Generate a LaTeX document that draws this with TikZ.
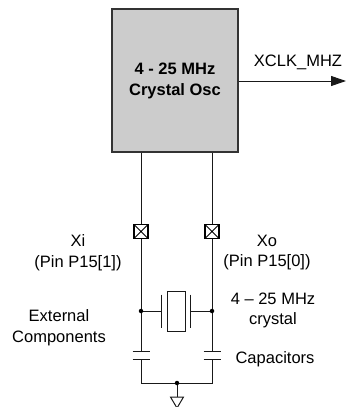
\documentclass[tikz,border=0pt]{standalone}
\usepackage{fontspec}
\setmainfont{Liberation Sans}
\usetikzlibrary{arrows.meta}

\begin{document}
\begin{tikzpicture}[yscale=-1, x=1pt, y=1pt,
    wire/.style={line width=1pt, draw=black!90},
    lbl/.style={font=\fontsize{16.5}{20.5}\selectfont, align=center, inner sep=0pt},
    pinbox/.style={draw=black, line width=1.3pt, minimum size=14pt, inner sep=0pt,
        path picture={\draw[line width=0.9pt] (path picture bounding box.north west) -- (path picture bounding box.south east)
            (path picture bounding box.south west) -- (path picture bounding box.north east);}},
    jdot/.style={circle, fill=black, inner sep=0pt, minimum size=4.5pt}]
    \useasboundingbox (0,0) rectangle (347,407);

    % Define the positions of the circuit points
    \coordinate (jl) at (141,311);
    \coordinate (jr) at (212,311);
    \coordinate (pl) at (161,311);
    \coordinate (pr) at (190,311);
    \coordinate (cl1) at (141,351);
    \coordinate (cl2) at (141,359);
    \coordinate (cr1) at (212,351);
    \coordinate (cr2) at (212,359);
    \coordinate (bl) at (141,383);
    \coordinate (br) at (212,383);
    \coordinate (gnd) at (177,383);
    \coordinate (gndTop) at (177,397);
    \coordinate (clkEnd) at (346,81);

    % Draw the oscillator block
    \node[draw=black!80, fill=black!20, line width=1.3pt, minimum width=126pt, minimum height=143pt,
        font=\fontsize{16.5}{21}\selectfont\bfseries, align=center] (osc) at (175,80.5) {4 - 25 MHz\\Crystal Osc};
    \draw[wire, -{Triangle[length=15pt,width=10pt]}] (osc.east |- clkEnd) -- (clkEnd);
    \node[lbl] (clkLbl) at (298,62) {XCLK\_MHZ};

    % Draw the pins
    \node[pinbox] (xi) at (141,231.5) {};
    \node[pinbox] (xo) at (212,231.5) {};
    \draw[wire] (osc.south -| xi) -- (xi.north);
    \draw[wire] (osc.south -| xo) -- (xo.north);

    % Draw the crystal
    \node[draw=black!90, line width=1pt, minimum width=18pt, minimum height=40pt] (xtal) at (176,311) {};
    \draw[wire] ([yshift=-16.5pt]pl) -- ([yshift=16.5pt]pl);
    \draw[wire] ([yshift=-16.5pt]pr) -- ([yshift=16.5pt]pr);
    \draw[wire] (jl) -- (pl);
    \draw[wire] (pr) -- (jr);

    % Draw the capacitors
    \draw[wire] ([xshift=-8.5pt]cl1) -- ([xshift=8.5pt]cl1);
    \draw[wire] ([xshift=-8.5pt]cl2) -- ([xshift=8.5pt]cl2);
    \draw[wire] ([xshift=-8.5pt]cr1) -- ([xshift=8.5pt]cr1);
    \draw[wire] ([xshift=-8.5pt]cr2) -- ([xshift=8.5pt]cr2);

    % Draw the wires
    \draw[wire] (xi.south) -- (cl1);
    \draw[wire] (xo.south) -- (cr1);
    \draw[wire] (cl2) -- (bl) -- (br) -- (cr2);
    \draw[wire] (gnd) -- (gndTop);
    \draw[wire] ([xshift=-6.5pt]gndTop) -- ([xshift=6.5pt]gndTop) -- ([yshift=11pt]gndTop) -- cycle;
    \node[jdot] (dl) at (jl) {};
    \node[jdot] (dr) at (jr) {};
    \node[jdot] (dg) at (gnd) {};

    % Draw the labels
    \node[lbl] (xiLbl) at (78,252.5) {Xi\\(Pin P15[1])};
    \node[lbl] (xoLbl) at (267,252.5) {Xo\\(Pin P15[0])};
    \node[lbl] (xtalLbl) at (273,310.5) {4 – 25 MHz\\crystal};
    \node[lbl] (extLbl) at (59,327.5) {External\\Components};
    \node[lbl] (capLbl) at (275,359) {Capacitors};
\end{tikzpicture}
\end{document}
